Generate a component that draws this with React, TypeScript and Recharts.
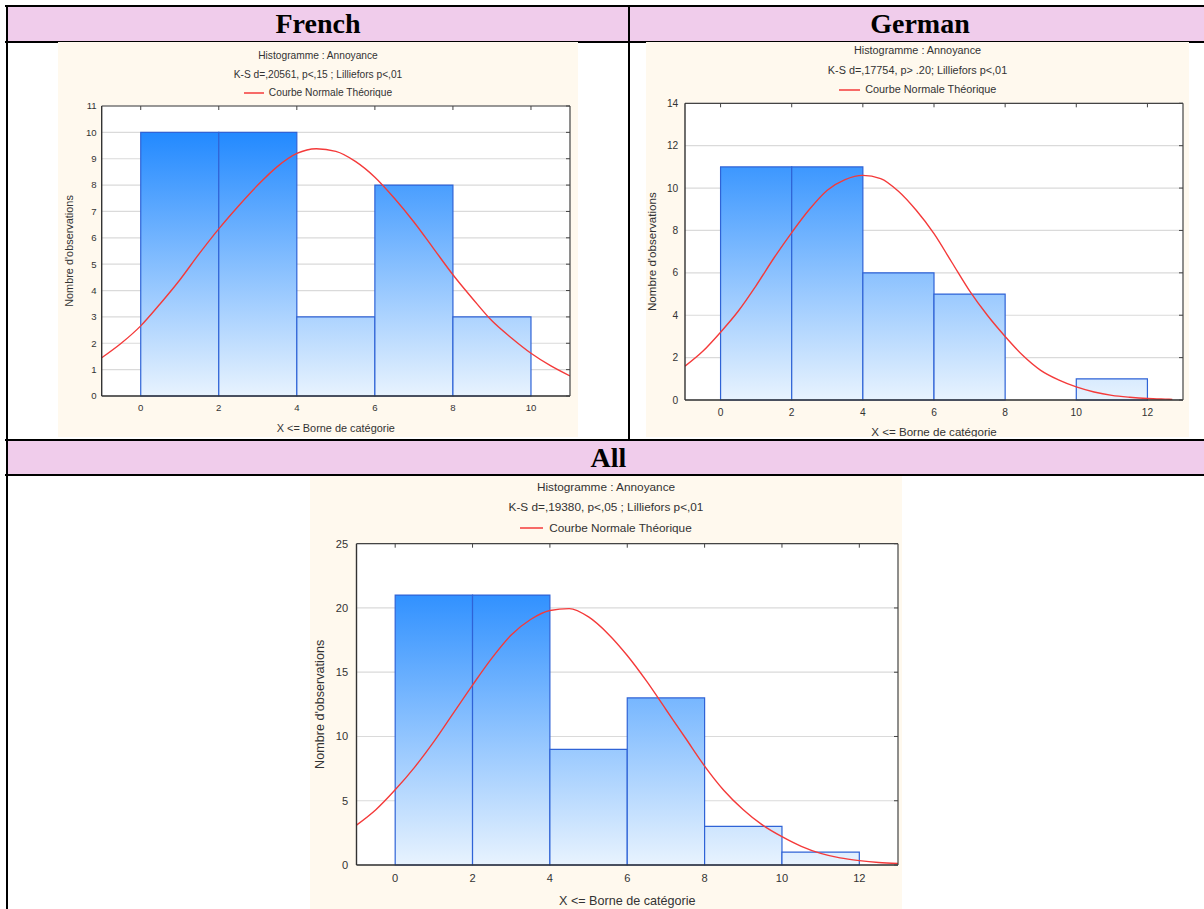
import React from 'react';
import { ComposedChart, Line, XAxis, YAxis, CartesianGrid, ReferenceArea, Legend } from 'recharts';

// French
const frenchBins = [0, 2, 4, 6, 8];
const frenchCounts = [10, 10, 3, 8, 3];
const frenchCurveX = [-1, -0.5, 0, 0.5, 1, 1.5, 2, 2.5, 3, 3.5, 4, 4.5, 5, 5.5, 6, 6.5, 7, 7.5, 8, 8.5, 9, 9.5, 10, 10.5, 11];
const frenchCurveY = [1.45, 2.0, 2.66, 3.5, 4.4, 5.4, 6.34, 7.2, 8.0, 8.7, 9.2, 9.38, 9.28, 8.9, 8.3, 7.5, 6.6, 5.6, 4.6, 3.7, 2.85, 2.2, 1.62, 1.15, 0.76];
const frenchXTicks = [0, 2, 4, 6, 8, 10];
const frenchYTicks = [0, 1, 2, 3, 4, 5, 6, 7, 8, 9, 10, 11];

// German
const germanBins = [0, 2, 4, 6, 8, 10];
const germanCounts = [11, 11, 6, 5, 0, 1];
const germanCurveX = [-1, -0.5, 0, 0.5, 1, 1.5, 2, 2.5, 3, 3.5, 4, 4.5, 5, 5.5, 6, 6.5, 7, 7.5, 8, 8.5, 9, 9.5, 10, 10.5, 11, 11.5, 12, 12.5, 12.7];
const germanCurveY = [1.6, 2.3, 3.2, 4.2, 5.4, 6.7, 7.9, 9.0, 9.9, 10.4, 10.6, 10.45, 9.85, 8.95, 7.85, 6.5, 5.15, 4.0, 3.0, 2.1, 1.4, 0.95, 0.62, 0.38, 0.22, 0.13, 0.07, 0.04, 0.03];
const germanXTicks = [0, 2, 4, 6, 8, 10, 12];
const germanYTicks = [0, 2, 4, 6, 8, 10, 12, 14];

// All
const allBins = [0, 2, 4, 6, 8, 10];
const allCounts = [21, 21, 9, 13, 3, 1];
const allCurveX = [-1, -0.5, 0, 0.5, 1, 1.5, 2, 2.5, 3, 3.5, 4, 4.5, 5, 5.5, 6, 6.5, 7, 7.5, 8, 8.5, 9, 9.5, 10, 10.5, 11, 11.5, 12, 12.5, 13];
const allCurveY = [3.1, 4.3, 5.85, 7.6, 9.6, 11.8, 14.0, 16.1, 17.9, 19.1, 19.8, 19.95, 19.3, 18.0, 16.3, 14.3, 12.1, 9.9, 7.7, 5.8, 4.3, 3.1, 2.2, 1.45, 0.9, 0.55, 0.34, 0.2, 0.13];
const allXTicks = [0, 2, 4, 6, 8, 10, 12];
const allYTicks = [0, 5, 10, 15, 20, 25];

const binWidth = 2;
const sans = '"Liberation Sans", Arial, sans-serif';
const serif = '"Liberation Serif", "Times New Roman", serif';
const ink = '#333';
const pink = '#F0CCEB';
const cream = '#FFF9EE';

interface PanelProps {
  id: string;
  stats: string;
  bins: number[];
  counts: number[];
  curveX: number[];
  curveY: number[];
  xTicks: number[];
  yTicks: number[];
  xMax: number;
  left: number;
  top: number;
  width: number;
  height: number;
  plot: { l: number; t: number; r: number; b: number };
  scale: number;
  titleY: number[];
  legendY: number;
  xLabelOffset: number;
  yLabelX: number;
  yTickGap: number;
  xTickGap: number;
}

const HistPanel: React.FC<PanelProps> = (p) => {
  const data = p.curveX.map((x, i) => ({ x, y: p.curveY[i] }));
  const yMax = p.yTicks[p.yTicks.length - 1];
  const titleSize = 10.2 * p.scale;
  const tickSize = 9.6 * p.scale;
  const labelSize = 10.9 * p.scale;
  const lineH = 14 * p.scale;

  return (
    <div style={{ position: 'absolute', left: p.left, top: p.top, width: p.width, height: p.height, background: cream, overflow: 'hidden' }}>
      {['Histogramme : Annoyance', p.stats].map((t, i) => (
        <div
          key={t}
          style={{ position: 'absolute', left: 0, width: p.width, top: p.titleY[i] - lineH / 2, height: lineH, lineHeight: `${lineH}px`, textAlign: 'center', fontFamily: sans, fontSize: titleSize, color: ink }}
        >
          {t}
        </div>
      ))}
      <ComposedChart
        width={p.width}
        height={p.height}
        data={data}
        margin={{ top: p.plot.t - 1, right: p.width - p.plot.r - 1, bottom: 0, left: 0 }}
      >
        <defs>
          <linearGradient id={`grad-${p.id}`} gradientUnits="userSpaceOnUse" x1={0} y1={p.plot.t} x2={0} y2={p.plot.b}>
            <stop offset="0%" stopColor="#0f7fff" />
            <stop offset="100%" stopColor="#e8f3fe" />
          </linearGradient>
        </defs>
        <CartesianGrid vertical={false} stroke="#dadada" strokeWidth={1.2} fill="#ffffff" fillOpacity={1} />
        <XAxis
          dataKey="x"
          type="number"
          domain={[-1, p.xMax]}
          ticks={p.xTicks}
          allowDataOverflow
          height={p.height - p.plot.b}
          axisLine={{ stroke: ink, strokeWidth: 1.4 }}
          tickLine={false}
          tickSize={0}
          tickMargin={p.xTickGap}
          tick={{ fontSize: tickSize, fill: ink, fontFamily: sans }}
          label={{ value: 'X <= Borne de catégorie', position: 'insideBottom', offset: p.xLabelOffset, style: { fontSize: labelSize, fill: ink, fontFamily: sans } }}
        />
        <XAxis
          xAxisId="top"
          orientation="top"
          dataKey="x"
          type="number"
          domain={[-1, p.xMax]}
          ticks={p.xTicks}
          allowDataOverflow
          height={1}
          mirror
          axisLine={{ stroke: '#444', strokeWidth: 1.2 }}
          tickLine={{ stroke: '#444' }}
          tickSize={4}
          tickFormatter={() => ''}
        />
        <YAxis
          type="number"
          domain={[0, yMax]}
          ticks={p.yTicks}
          allowDataOverflow
          width={p.plot.l}
          axisLine={{ stroke: ink, strokeWidth: 1.4 }}
          tickLine={false}
          tickSize={0}
          tickMargin={p.yTickGap}
          tick={{ fontSize: tickSize, fill: ink, fontFamily: sans }}
          label={{ value: "Nombre d'observations", angle: -90, position: 'insideLeft', offset: p.yLabelX, style: { textAnchor: 'middle', fontSize: labelSize, fill: ink, fontFamily: sans } }}
        />
        <YAxis
          yAxisId="right"
          orientation="right"
          type="number"
          domain={[0, yMax]}
          ticks={p.yTicks}
          allowDataOverflow
          width={1}
          mirror
          axisLine={{ stroke: '#444', strokeWidth: 1.2 }}
          tickLine={{ stroke: '#444' }}
          tickSize={4}
          tickFormatter={() => ''}
        />
        {p.bins.map((b, i) =>
          p.counts[i] > 0 ? (
            <ReferenceArea
              key={b}
              x1={b}
              x2={b + binWidth}
              y1={0}
              y2={p.counts[i]}
              fill={`url(#grad-${p.id})`}
              fillOpacity={1}
              stroke="#2f63d6"
              strokeWidth={1.2}
            />
          ) : null
        )}
        <Line
          type="monotone"
          dataKey="y"
          name="Courbe Normale Théorique"
          stroke="#f43a3a"
          strokeWidth={1.4}
          dot={false}
          activeDot={false}
          legendType="plainline"
          isAnimationActive={false}
        />
        <Legend
          verticalAlign="middle"
          align="center"
          layout="horizontal"
          width={p.width}
          wrapperStyle={{ left: 0, top: p.legendY - lineH / 2, height: lineH }}
          content={(props: any) => (
            <div style={{ textAlign: 'center', fontFamily: sans, fontSize: titleSize, color: ink, lineHeight: `${lineH}px` }}>
              {(props.payload || []).map((entry: any) => (
                <span key={entry.value} style={{ display: 'inline-flex', alignItems: 'center' }}>
                  <svg width={20 * p.scale} height={4}>
                    <line x1={0} y1={2} x2={20 * p.scale} y2={2} stroke={entry.color} strokeWidth={1.5} />
                  </svg>
                  <span style={{ marginLeft: 5 * p.scale }}>{entry.value}</span>
                </span>
              ))}
            </div>
          )}
        />
      </ComposedChart>
    </div>
  );
};

const hLine = (x: number, y: number, w: number) => (
  <div style={{ position: 'absolute', left: x, top: y, width: w, height: 2, background: '#000' }} />
);
const vLine = (x: number, y: number, h: number) => (
  <div style={{ position: 'absolute', left: x, top: y, width: 2, height: h, background: '#000' }} />
);
const header = (text: string, x: number, y: number, w: number, h: number) => (
  <div style={{ position: 'absolute', left: x, top: y, width: w, height: h, background: pink, textAlign: 'center', lineHeight: `${h}px`, fontFamily: serif, fontWeight: 'bold', fontSize: 28, color: '#000' }}>
    {text}
  </div>
);

export default function App() {
  return (
    <div style={{ position: 'absolute', left: 0, top: 0, width: 1204, height: 909, overflow: 'hidden', background: '#fff' }}>
      {header('French', 7, 7, 622, 34)}
      {header('German', 630, 7, 580, 34)}
      {header('All', 7, 441, 1203, 33)}
      {hLine(5, 5, 1210)}
      {hLine(5, 40.5, 1210)}
      {hLine(5, 439, 1210)}
      {hLine(5, 474, 1210)}
      {vLine(5.5, 5, 910)}
      {vLine(628.3, 5, 435)}

      <HistPanel
        id="fr"
        stats="K-S d=,20561, p<,15 ; Lilliefors p<,01"
        bins={frenchBins}
        counts={frenchCounts}
        curveX={frenchCurveX}
        curveY={frenchCurveY}
        xTicks={frenchXTicks}
        yTicks={frenchYTicks}
        xMax={11}
        left={58}
        top={42}
        width={520}
        height={395}
        plot={{ l: 43.7, t: 65, r: 511, b: 354 }}
        scale={1}
        titleY={[14, 33]}
        legendY={50}
        xLabelOffset={4.8}
        yLabelX={11.3}
        yTickGap={5}
        xTickGap={8.5}
      />
      <HistPanel
        id="de"
        stats="K-S d=,17754, p> .20; Lilliefors p<,01"
        bins={germanBins}
        counts={germanCounts}
        curveX={germanCurveX}
        curveY={germanCurveY}
        xTicks={germanXTicks}
        yTicks={germanYTicks}
        xMax={13}
        left={646}
        top={42}
        width={543}
        height={395}
        plot={{ l: 39, t: 62.3, r: 536, b: 358 }}
        scale={1.064}
        titleY={[8.7, 28.7]}
        legendY={46.3}
        xLabelOffset={1.2}
        yLabelX={5.7}
        yTickGap={6.7}
        xTickGap={8.8}
      />
      <HistPanel
        id="all"
        stats="K-S d=,19380, p<,05 ; Lilliefors p<,01"
        bins={allBins}
        counts={allCounts}
        curveX={allCurveX}
        curveY={allCurveY}
        xTicks={allXTicks}
        yTicks={allYTicks}
        xMax={13}
        left={310}
        top={476}
        width={592}
        height={433}
        plot={{ l: 46.5, t: 68.7, r: 587, b: 389 }}
        scale={1.156}
        titleY={[10.7, 30.7]}
        legendY={50}
        xLabelOffset={4.5}
        yLabelX={9.3}
        yTickGap={8.4}
        xTickGap={8.8}
      />
    </div>
  );
}
